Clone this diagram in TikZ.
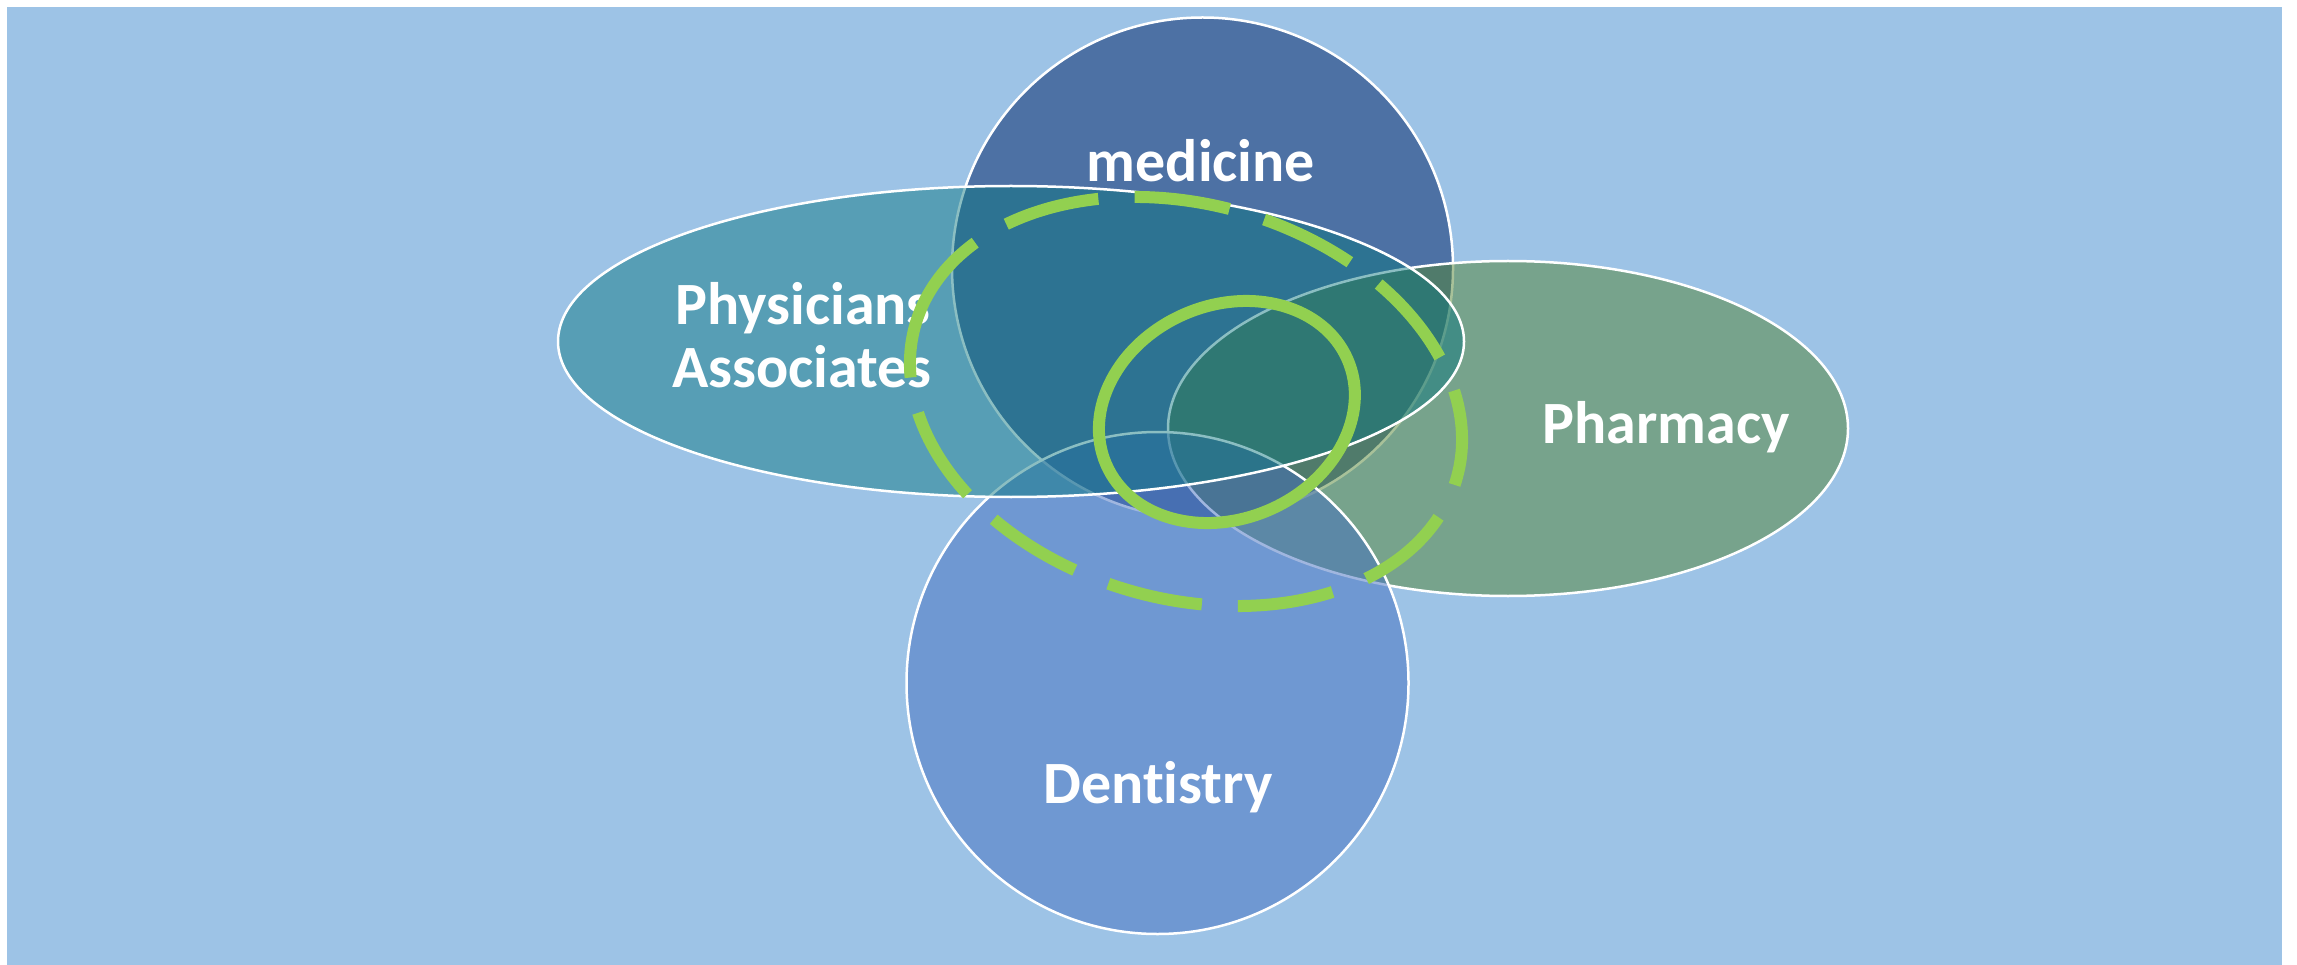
\documentclass[tikz,border=0pt]{standalone}
\usepackage{fontspec}
\setmainfont{Carlito}[Ligatures=NoCommon]
\definecolor{bgblue}{RGB}{157,195,230}
\definecolor{medcol}{RGB}{77,113,164}
\definecolor{pharmcol}{RGB}{83,133,52}
\definecolor{dentcol}{RGB}{67,111,192}
\definecolor{physcol}{RGB}{10,118,126}
\definecolor{limegreen}{RGB}{146,208,80}
\begin{document}
\begin{tikzpicture}[x=1pt,y=-1pt,
  venn/.style={draw=white,line width=2.5pt},
  lbl/.style={text=white,font=\bfseries\fontsize{60}{63}\selectfont,inner sep=0pt,anchor=base},
  ring/.style={draw=limegreen,line width=12pt}]
\useasboundingbox (0,0) rectangle (2297,965);
\fill[bgblue] (7,7) rectangle (2282,965);
\coordinate (cmed) at (1202.5,268);
\coordinate (cpharm) at (1508,428.5);
\coordinate (cdent) at (1157.5,683);
\coordinate (cphys) at (1011,341.5);
\coordinate (csolid) at (1227,412);
% sets
\path[venn,fill=medcol] (cmed) circle [radius=250.5pt];
\path[venn,fill=pharmcol,fill opacity=0.5] (cpharm) ellipse [x radius=340pt,y radius=167.5pt];
\path[venn,fill=dentcol,fill opacity=0.5] (cdent) circle [radius=251pt];
\path[venn,fill=physcol,fill opacity=0.47] (cphys) ellipse [x radius=453pt,y radius=155.5pt];
% labels
\node[lbl] (tmed) at (1201,182) {medicine};
\node[lbl] (tphys1) at (803,325) {Physicians};
\node[lbl] (tphys2) at (802,388) {Associates};
\node[lbl] (tpharm) at (1666,443) {Pharmacy};
\node[lbl] (tdent) at (1158,803) {Dentistry};
% green rings
\begin{scope}[shift={(1186,401.5)},rotate=-15.7]
  \coordinate (cdash) at (0,0);
  \draw[ring,dash pattern=on 96pt off 36.2pt]
    (167.5:281.3pt and 197.2pt) arc [start angle=167.5,end angle=527.5,x radius=281.3pt,y radius=197.2pt];
\end{scope}
\draw[ring,rotate around={23.5:(csolid)}] (csolid) ellipse [x radius=131.6pt,y radius=106.7pt];
\end{tikzpicture}
\end{document}
